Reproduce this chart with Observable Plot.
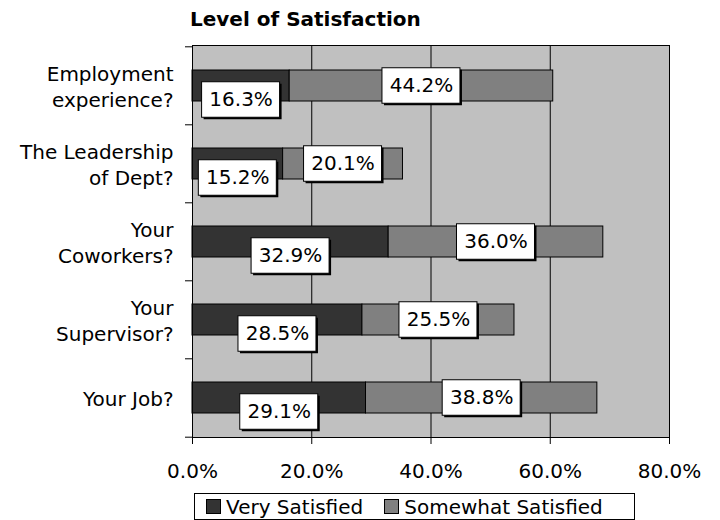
<!DOCTYPE html>
<html>
<head>
<meta charset="utf-8">
<script src="https://cdn.jsdelivr.net/npm/d3@7"></script>
<script src="https://cdn.jsdelivr.net/npm/@observablehq/plot@0.6"></script>
<style>
  html, body { margin: 0; padding: 0; background: #fff; }
  body { width: 720px; height: 520px; position: relative; overflow: hidden; font-family: "DejaVu Sans", Verdana, sans-serif; }
  #title { position: absolute; left: 190px; top: 9px; font-size: 20px; line-height: 20px; font-weight: bold; color: #000; white-space: nowrap; }
  #chart { position: absolute; left: 0; top: 0; }
  #legend { position: absolute; left: 194px; top: 493px; width: 439px; height: 25px; border: 1px solid #000; background: #fff; display: flex; align-items: center; font-size: 20px; line-height: 20px; white-space: nowrap; }
  .item { display: flex; align-items: center; }
  .sw { width: 13px; height: 13px; border: 1px solid #000; margin-right: 5px; }
</style>
</head>
<body>
<div id="title">Level of Satisfaction</div>
<div id="chart"></div>
<div id="legend"></div>
<script>
// ---- data ----
const categories = ["Employment\nexperience?", "The Leadership\nof Dept?", "Your\nCoworkers?", "Your\nSupervisor?", "Your Job?"];
const seriesNames = ["Very Satisfied", "Somewhat Satisfied"];
const veryValues = [16.3, 15.2, 32.9, 28.5, 29.1];
const somewhatValues = [44.2, 20.1, 36.0, 25.5, 38.8];
const xTicks = [0, 20, 40, 60, 80];
const seriesColors = ["#333333", "#808080"];

// ---- stacked table built from the arrays ----
const rows = [];
categories.forEach((c, i) => {
  const v = veryValues[i], s = somewhatValues[i];
  rows.push({cat: c, series: seriesNames[0], value: v, x1: 0, x2: v, mid: v / 2});
  rows.push({cat: c, series: seriesNames[1], value: s, x1: v, x2: v + s, mid: v + s / 2});
});
const lowRows = rows.filter(d => d.series === seriesNames[0]);
const highRows = rows.filter(d => d.series === seriesNames[1]);

const W = 720, H = 520, mt = 45, mb = 83, ml = 192, mr = 51;
const step = (H - mt - mb) / categories.length;
const fmt = d => d.toFixed(1) + "%";
const lowDy = 14;

const boxOpts = {x1: "mid", x2: "mid", y: "cat", insetLeft: -39, insetRight: -39, insetTop: -2.25, insetBottom: -2.25};

const chart = Plot.plot({
  width: W,
  height: H,
  marginTop: mt,
  marginBottom: mb,
  marginLeft: ml,
  marginRight: mr,
  style: {fontFamily: "DejaVu Sans, Verdana, sans-serif", fontSize: "20px", color: "#000", background: "transparent", overflow: "visible"},
  x: {domain: [0, 80], ticks: xTicks, tickFormat: fmt, tickSize: 7, tickPadding: 19, label: null},
  y: {domain: categories, paddingInner: 0.6046, paddingOuter: 0.3023, axis: null},
  color: {domain: seriesNames, range: seriesColors},
  marks: [
    Plot.frame({fill: "#c0c0c0"}),
    Plot.ruleX(xTicks.filter(t => t > 0 && t < 80), {stroke: "#000", strokeWidth: 1}),
    Plot.barX(rows, {x1: "x1", x2: "x2", y: "cat", fill: "series", stroke: "#000", strokeWidth: 1}),
    Plot.frame({stroke: "#000", strokeWidth: 1}),
    // category boundary ticks on the left axis
    Plot.ruleY(categories, {y: d => d, x1: 0, x2: 0, insetLeft: -7, dy: -step / 2, stroke: "#000"}),
    Plot.ruleY(categories.slice(-1), {y: d => d, x1: 0, x2: 0, insetLeft: -7, dy: step / 2, stroke: "#000"}),
    // category labels
    Plot.text(categories, {y: d => d, text: d => d, frameAnchor: "left", textAnchor: "end", dx: -19, lineHeight: 1.3, fontSize: 20, fill: "#000"}),
    // data labels: shadow, box, text (Somewhat Satisfied)
    Plot.barX(highRows, {...boxOpts, fill: "#000", dx: 2, dy: 2}),
    Plot.barX(highRows, {...boxOpts, fill: "#fff", stroke: "#000", strokeWidth: 1}),
    Plot.text(highRows, {x: "mid", y: "cat", text: d => fmt(d.value), fontSize: 20, fill: "#000"}),
    // data labels (Very Satisfied)
    Plot.barX(lowRows, {...boxOpts, fill: "#000", dx: 2, dy: lowDy + 2}),
    Plot.barX(lowRows, {...boxOpts, fill: "#fff", stroke: "#000", strokeWidth: 1, dy: lowDy}),
    Plot.text(lowRows, {x: "mid", y: "cat", text: d => fmt(d.value), fontSize: 20, fill: "#000", dy: lowDy})
  ]
});
document.getElementById("chart").appendChild(chart);

// ---- legend ----
const legend = document.getElementById("legend");
seriesNames.forEach((name, i) => {
  const item = document.createElement("div");
  item.className = "item";
  item.style.marginLeft = i === 0 ? "11px" : "21px";
  const sw = document.createElement("span");
  sw.className = "sw";
  sw.style.background = seriesColors[i];
  const label = document.createElement("span");
  label.textContent = name;
  item.appendChild(sw);
  item.appendChild(label);
  legend.appendChild(item);
});
</script>
</body>
</html>
